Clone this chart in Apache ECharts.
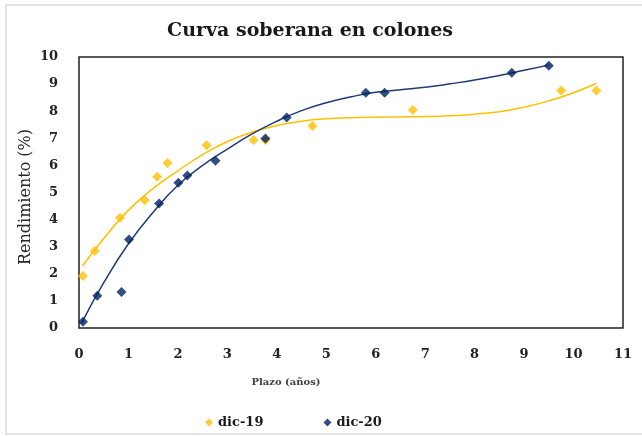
<!DOCTYPE html>
<html>
<head>
<meta charset="utf-8">
<script src="https://cdn.jsdelivr.net/npm/echarts@6/dist/echarts.min.js"></script>
<style>html,body{margin:0;padding:0;background:#fff;}#c{width:642px;height:436px;}</style>
</head>
<body>
<div id="c"></div>
<script>
// Observed points (plazo en años, rendimiento %)
var dic19X = [0.08, 0.32, 0.83, 1.33, 1.58, 1.79, 2.58, 3.53, 3.77, 4.72, 6.75, 9.75, 10.46];
var dic19Y = [1.92, 2.84, 4.07, 4.71, 5.58, 6.09, 6.74, 6.94, 6.94, 7.45, 8.04, 8.76, 8.76];
var dic20X = [0.08, 0.37, 0.86, 1.01, 1.62, 2.01, 2.19, 2.76, 3.77, 4.20, 5.80, 6.18, 8.75, 9.50];
var dic20Y = [0.23, 1.19, 1.33, 3.27, 4.59, 5.36, 5.63, 6.17, 6.99, 7.77, 8.68, 8.68, 9.42, 9.68];
// Trend lines
var trend19X = [0.07, 0.5, 1.0, 1.5, 2.0, 2.5, 3.0, 3.5, 4.0, 4.5, 5.0, 5.5, 6.0, 6.5, 7.0, 7.5, 8.0, 8.5, 9.0, 9.5, 10.0, 10.46];
var trend19Y = [2.29, 3.30, 4.35, 5.15, 5.80, 6.40, 6.88, 7.23, 7.47, 7.63, 7.72, 7.76, 7.78, 7.79, 7.80, 7.83, 7.89, 7.98, 8.15, 8.38, 8.68, 9.03];
var trend20X = [0.05, 0.5, 1.0, 1.5, 2.0, 2.5, 3.0, 3.5, 4.0, 4.5, 5.0, 5.5, 6.0, 6.5, 7.0, 7.5, 8.0, 8.5, 9.0, 9.5];
var trend20Y = [0.17, 1.67, 3.11, 4.27, 5.27, 6.00, 6.60, 7.16, 7.63, 8.02, 8.31, 8.53, 8.70, 8.79, 8.88, 9.01, 9.15, 9.32, 9.51, 9.70];
var xTicks = [0, 11, 1];
var yTicks = [0, 10, 1];

function pairs(xs, ys) { return xs.map(function (x, i) { return [x, ys[i]]; }); }

var YELLOW = '#FFC000';
var BLUE = '#002060';
var FONT = 'DejaVu Serif';

var chart = echarts.init(document.getElementById('c'));
chart.setOption({
  animation: false,
  backgroundColor: '#fff',
  title: {
    text: 'Curva soberana en colones',
    left: 305, top: 17, textAlign: 'center',
    textStyle: { fontFamily: FONT, fontWeight: 'bold', fontSize: 19, color: '#1a1a1a' }
  },
  graphic: [
    { type: 'rect', shape: { x: 6, y: 5, width: 660, height: 429 }, style: { fill: 'none', stroke: '#dcdcdc', lineWidth: 1.5 }, silent: true },
    { type: 'text', x: 286, y: 382, style: { text: 'Plazo (años)', font: 'bold 10px "DejaVu Serif"', fill: '#404040', textAlign: 'center', textVerticalAlign: 'middle' } },
    { type: 'text', x: 26, y: 197, rotation: Math.PI / 2, style: { text: 'Rendimiento (%)', font: '16px "DejaVu Serif"', fill: '#262626', textAlign: 'center', textVerticalAlign: 'middle' } }
  ],
  legend: {
    data: ['dic-19', 'dic-20'],
    left: 200, top: 411,
    icon: 'diamond', itemWidth: 8, itemHeight: 8, itemGap: 60,
    textStyle: { fontFamily: FONT, fontWeight: 'bold', fontSize: 13, color: '#1a1a1a' }
  },
  grid: { left: 79, right: 19, top: 57, bottom: 108, show: true, borderColor: '#222', borderWidth: 1.5 },
  xAxis: {
    type: 'value', min: xTicks[0], max: xTicks[1], interval: xTicks[2],
    axisLine: { show: false }, axisTick: { show: false }, splitLine: { show: false },
    axisLabel: { margin: 20, fontFamily: FONT, fontWeight: 'bold', fontSize: 13, color: '#222' }
  },
  yAxis: {
    type: 'value', min: yTicks[0], max: yTicks[1], interval: yTicks[2],
    axisLine: { show: false }, axisTick: { show: false }, splitLine: { show: false },
    axisLabel: { margin: 21, fontFamily: FONT, fontWeight: 'bold', fontSize: 13, color: '#222' }
  },
  series: [
    { name: 'tend19', type: 'line', data: pairs(trend19X, trend19Y), smooth: 0.5, showSymbol: false, lineStyle: { color: YELLOW, width: 1.5 }, itemStyle: { color: YELLOW }, z: 2 },
    { name: 'tend20', type: 'line', data: pairs(trend20X, trend20Y), smooth: 0.5, showSymbol: false, lineStyle: { color: '#1F3A78', width: 1.5 }, itemStyle: { color: BLUE }, z: 2 },
    { name: 'dic-19', type: 'scatter', data: pairs(dic19X, dic19Y), symbol: 'diamond', symbolSize: 10, itemStyle: { color: YELLOW }, z: 3 },
    { name: 'dic-20', type: 'scatter', data: pairs(dic20X, dic20Y), symbol: 'diamond', symbolSize: 10, itemStyle: { color: BLUE }, z: 4 }
  ]
});
</script>
</body>
</html>
